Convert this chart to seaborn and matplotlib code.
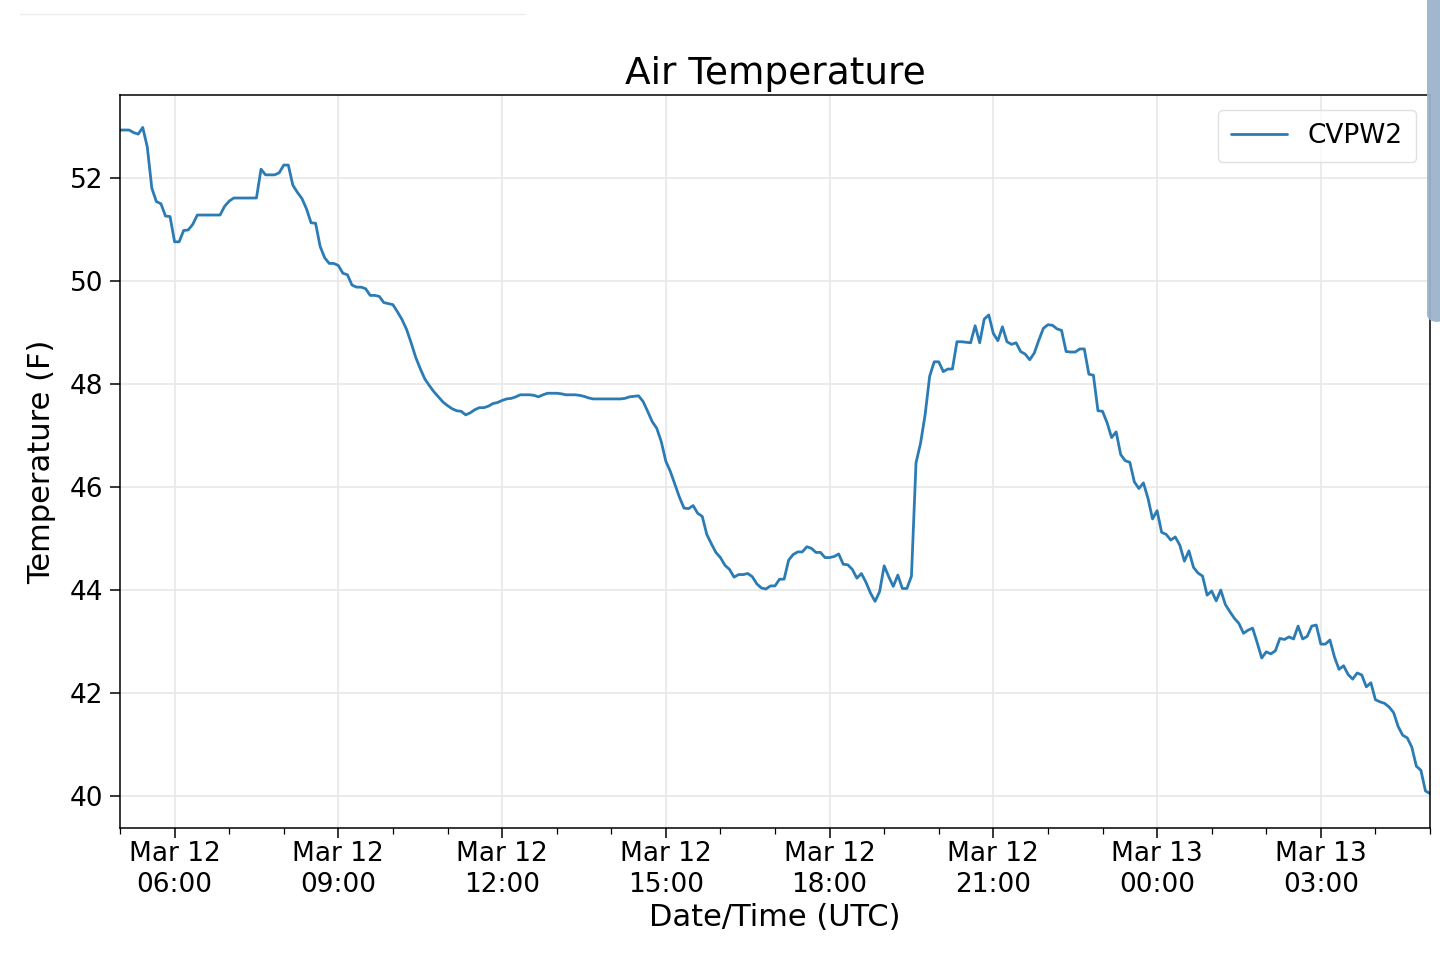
import numpy as np
import pandas as pd
import matplotlib
matplotlib.use("Agg")
import matplotlib.pyplot as plt
import matplotlib.dates as mdates
from matplotlib.patches import FancyBboxPatch
from matplotlib.lines import Line2D
import seaborn as sns

# ---- data (5-minute observations, Mar 12 05:00 UTC -> Mar 13 05:00 UTC) ----
start_time = "2019-03-12 05:00"
interval = "5min"
station = "CVPW2"
temps_f = [
    52.93, 52.93, 52.93, 52.88, 52.85, 52.98, 52.60, 51.80, 51.54, 51.50,
    51.26, 51.25, 50.76, 50.76, 50.98, 50.99, 51.10, 51.28, 51.28, 51.28,
    51.28, 51.28, 51.28, 51.45, 51.55, 51.61, 51.61, 51.61, 51.61, 51.61,
    51.61, 52.17, 52.06, 52.06, 52.06, 52.10, 52.25, 52.25, 51.86, 51.72,
    51.60, 51.40, 51.13, 51.12, 50.67, 50.45, 50.34, 50.34, 50.30, 50.15,
    50.12, 49.92, 49.88, 49.88, 49.85, 49.72, 49.72, 49.70, 49.58, 49.56,
    49.54, 49.40, 49.25, 49.06, 48.80, 48.52, 48.30, 48.10, 47.97, 47.85,
    47.75, 47.65, 47.58, 47.52, 47.48, 47.47, 47.40, 47.44, 47.50, 47.54,
    47.54, 47.57, 47.62, 47.64, 47.68, 47.71, 47.72, 47.75, 47.79, 47.79,
    47.79, 47.78, 47.75, 47.79, 47.82, 47.82, 47.82, 47.81, 47.79, 47.79,
    47.79, 47.78, 47.76, 47.73, 47.71, 47.71, 47.71, 47.71, 47.71, 47.71,
    47.71, 47.72, 47.75, 47.76, 47.77, 47.66, 47.47, 47.27, 47.14, 46.88,
    46.50, 46.30, 46.05, 45.80, 45.59, 45.58, 45.64, 45.49, 45.43, 45.08,
    44.90, 44.73, 44.63, 44.48, 44.40, 44.25, 44.30, 44.30, 44.32, 44.26,
    44.12, 44.04, 44.02, 44.08, 44.08, 44.21, 44.21, 44.58, 44.69, 44.74,
    44.74, 44.84, 44.81, 44.73, 44.73, 44.63, 44.63, 44.65, 44.70, 44.50,
    44.49, 44.40, 44.23, 44.32, 44.15, 43.94, 43.78, 43.97, 44.47, 44.26,
    44.07, 44.29, 44.03, 44.03, 44.27, 46.47, 46.85, 47.40, 48.15, 48.43,
    48.43, 48.24, 48.29, 48.29, 48.82, 48.82, 48.81, 48.80, 49.13, 48.80,
    49.26, 49.34, 48.98, 48.84, 49.11, 48.82, 48.77, 48.80, 48.63, 48.58,
    48.47, 48.60, 48.85, 49.08, 49.15, 49.14, 49.07, 49.04, 48.63, 48.62,
    48.62, 48.68, 48.68, 48.19, 48.17, 47.48, 47.47, 47.25, 46.96, 47.07,
    46.63, 46.51, 46.48, 46.10, 45.97, 46.08, 45.78, 45.38, 45.54, 45.12,
    45.08, 44.97, 45.03, 44.87, 44.56, 44.76, 44.44, 44.33, 44.27, 43.90,
    43.98, 43.79, 44.00, 43.72, 43.58, 43.45, 43.35, 43.16, 43.22, 43.26,
    42.98, 42.68, 42.80, 42.76, 42.82, 43.06, 43.04, 43.09, 43.05, 43.30,
    43.05, 43.10, 43.30, 43.32, 42.95, 42.95, 43.03, 42.70, 42.46, 42.53,
    42.36, 42.27, 42.39, 42.35, 42.12, 42.20, 41.87, 41.83, 41.80, 41.73,
    41.62, 41.35, 41.18, 41.13, 40.95, 40.58, 40.50, 40.10, 40.05,
]
y_ticks = [40, 42, 44, 46, 48, 50, 52]
y_limits = (39.38, 53.61)

times = pd.date_range(start_time, periods=len(temps_f), freq=interval)
df = pd.DataFrame({"time": times, "temp": temps_f})

# ---- style ----
sns.set_style("ticks")
plt.rcParams["font.family"] = ["DejaVu Sans"]
for key in ("text.color", "axes.labelcolor", "xtick.color", "ytick.color"):
    plt.rcParams[key] = "black"

fig = plt.figure(figsize=(14.4, 9.63), dpi=100)
ax = fig.add_axes([120 / 1440, 1 - 828 / 963, 1310 / 1440, 733 / 963])

line_color = "#2b7bb4"
sns.lineplot(data=df, x="time", y="temp", ax=ax, color=line_color,
             linewidth=2.0, label=station, legend=False)

ax.set_xlim(times[0], times[-1])
ax.set_ylim(*y_limits)
ax.set_yticks(y_ticks)

ax.xaxis.set_major_locator(mdates.HourLocator(byhour=range(0, 24, 3)))
ax.xaxis.set_minor_locator(mdates.HourLocator())
ax.xaxis.set_major_formatter(mdates.DateFormatter("%b %d\n%H:%M"))

ax.grid(True, which="major", color="#e8e8e8", linewidth=1.2)
ax.set_axisbelow(True)
for sp in ax.spines.values():
    sp.set_visible(True)
    sp.set_color("black")
    sp.set_linewidth(1.1)

ax.tick_params(axis="both", which="major", labelsize=19, length=7, width=1.1,
               color="black", labelcolor="black")
ax.tick_params(axis="x", which="major", pad=2)
ax.tick_params(axis="y", which="major", pad=5)
ax.tick_params(axis="x", which="minor", length=4, width=0.9, color="black")
for lbl in ax.get_xticklabels():
    lbl.set_linespacing(1.25)

ax.set_title("Air Temperature", fontsize=27, pad=8)
ax.set_xlabel("Date/Time (UTC)", fontsize=22, labelpad=4)
ax.set_ylabel("Temperature (F)", fontsize=22, labelpad=10)

handle = Line2D([], [], color=line_color, linewidth=2.0)
leg = ax.legend([handle], [station], loc="upper right", fontsize=19,
                frameon=True, fancybox=True, borderpad=0.5,
                borderaxespad=0, handlelength=2.1, handletextpad=0.8,
                bbox_to_anchor=((1416 - 120) / 1310, (828 - 110) / 733))
leg.get_frame().set_edgecolor("#d9d9d9")
leg.get_frame().set_linewidth(1.0)
for t in leg.get_texts():
    t.set_color("black")

# screenshot artefacts: faint rule at the top and side bar at right
fig.add_artist(Line2D([20 / 1440, 525 / 1440], [1 - 14 / 963, 1 - 14 / 963],
                      transform=fig.transFigure, color="#eeeeee", linewidth=1))
bar = FancyBboxPatch((1427 / 1440, 1 - 322 / 963), 20 / 1440, 330 / 963,
                     boxstyle="round,pad=0,rounding_size=0.008",
                     transform=fig.transFigure, facecolor="#9bb3cb",
                     edgecolor="none", alpha=0.95, zorder=10)
fig.add_artist(bar)

fig.savefig("out.png", dpi=100, facecolor="white")
